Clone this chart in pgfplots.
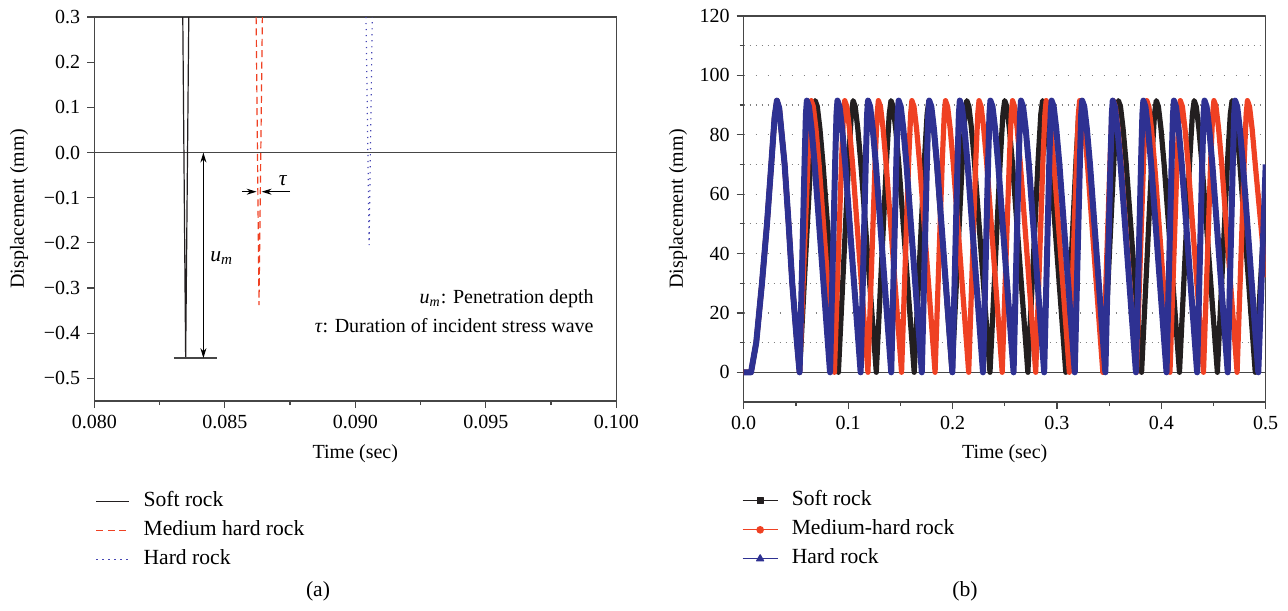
\documentclass[border=0pt]{standalone}
\usepackage{fontspec}
\setmainfont{Liberation Serif}
\usepackage{pgfplots}
\pgfplotsset{compat=1.18}
\usetikzlibrary{arrows.meta}

\definecolor{softc}{RGB}{35,31,32}
\definecolor{medc}{RGB}{239,65,35}
\definecolor{hardc}{RGB}{46,49,146}
\definecolor{dotc}{RGB}{70,70,180}
\definecolor{axc}{RGB}{70,70,70}

\newcommand{\fs}{\fontsize{10}{12}\selectfont}
\newcommand{\fl}{\fontsize{10.8}{13}\selectfont}

\pgfplotsset{
  pane/.style={
    scale only axis,
    width=261pt,
    axis line style={axc, line width=0.6pt},
    every tick/.style={axc, line width=0.6pt},
    tick align=outside, tick pos=left,
    major tick length=3.5pt, minor tick length=2pt,
    tick label style={font=\fs, text=black},
    label style={font=\fs},
    scaled ticks=false,
    legend style={draw=none, fill=none, font=\fl, inner sep=0pt, row sep=0pt,
      column sep=4.75pt, anchor=north west,
      nodes={inner sep=2pt, text height=7.8pt, text depth=2.7pt}},
    legend cell align=left,
  }
}

\begin{document}
\begin{tikzpicture}
\useasboundingbox (-47.15pt,-104.5pt) rectangle (596.85pt,200.5pt);

% ---------------- (a) ----------------
\begin{axis}[pane, height=192pt,
  at={(0pt,0pt)}, anchor=south west,
  xmin=0.08, xmax=0.1, ymin=-0.55, ymax=0.3,
  xtick={0.08,0.085,0.09,0.095,0.1},
  xticklabels={0.080,0.085,0.090,0.095,0.100},
  minor xtick={0.0825,0.0875,0.0925,0.0975},
  ytick={-0.5,-0.4,-0.3,-0.2,-0.1,0,0.1,0.2,0.3},
  yticklabels={−0.5,−0.4,−0.3,−0.2,−0.1,0.0,0.1,0.2,0.3},
  xlabel={Time (sec)}, ylabel={Displacement (mm)},
  xlabel style={at={(axis description cs:0.5,-0.138)}, anchor=center},
  ylabel style={at={(axis description cs:-0.144,0.5)}, anchor=center},
  legend style={at={(axis description cs:0.0019,-0.2226)}},
  legend image code/.code={\draw[#1, line width=0.7pt] (0pt,0pt) -- (16.5pt,0pt);},
]
\addplot[axc, line width=0.6pt, forget plot] coordinates {(0.08,0) (0.1,0)};

\addplot[softc, line width=0.6pt] coordinates {(0.08339,0.3) (0.08350,-0.455) (0.08362,0.3)};
\addlegendentry{Soft rock}
\addplot[medc, line width=0.6pt, dash pattern=on 3.5pt off 2.2pt] coordinates {(0.08620,0.3) (0.08631,-0.3375) (0.08644,0.3)};
\addlegendentry{Medium hard rock}
\addplot[dotc, line width=0.6pt, dash pattern=on 0.6pt off 2.4pt] coordinates {(0.09041,0.3) (0.09053,-0.205) (0.09065,0.3)};
\addlegendentry{Hard rock}

\draw[axc, line width=0.7pt] (axis cs:0.08305,-0.455) -- (axis cs:0.08469,-0.455);
\draw[black, line width=0.5pt, {Stealth[length=5pt,width=3pt]}-{Stealth[length=5pt,width=3pt]}]
  (axis cs:0.08418,0) -- (axis cs:0.08418,-0.455);
\draw[black, line width=0.5pt, -{Stealth[length=5pt,width=3pt]}] (axis cs:0.08565,-0.0867) -- (axis cs:0.08622,-0.0867);
\draw[black, line width=0.5pt, -{Stealth[length=5pt,width=3pt]}] (axis cs:0.08750,-0.0867) -- (axis cs:0.08641,-0.0867);
\node[font=\fl] at (axis cs:0.08723,-0.063) {\textit{τ}};
\node[font=\fl] at (axis cs:0.08488,-0.233) {\textit{u}\textsubscript{\textit{m}}};
\node[font=\fs, anchor=east] at (axis cs:0.0994,-0.324) {\textit{u}\textsubscript{\textit{m}}: Penetration depth};
\node[font=\fs, anchor=east] at (axis cs:0.0994,-0.382) {\textit{τ}: Duration of incident stress wave};
\end{axis}

% ---------------- (b) ----------------
\begin{axis}[pane, height=193pt,
  at={(324.7pt,-0.5pt)}, anchor=south west,
  xmin=0, xmax=0.5, ymin=-10, ymax=120,
  xtick={0,0.1,0.2,0.3,0.4,0.5},
  xticklabels={0.0,0.1,0.2,0.3,0.4,0.5},
  minor x tick num=1,
  ytick={0,20,40,60,80,100,120},
  yticklabels={0,20,40,60,80,100,120},
  minor y tick num=1,
  ymajorgrids, yminorgrids,
  major grid style={gray, line width=0.6pt, dash pattern=on 0.6pt off 5.4pt},
  minor grid style={gray, line width=0.6pt, dash pattern=on 0.6pt off 2.4pt},
  xlabel={Time (sec)}, ylabel={Displacement (mm)},
  xlabel style={at={(axis description cs:0.5,-0.135)}, anchor=center},
  ylabel style={at={(axis description cs:-0.1257,0.5)}, anchor=center},
  legend style={at={(axis description cs:-0.0039,-0.2174)}},
  legend image code/.code={\draw[mark repeat=2,mark phase=2,#1] plot coordinates {(0pt,0pt) (8.75pt,0pt) (17.5pt,0pt)};},
  line join=round,
]
\addplot[axc, line width=0.6pt, forget plot] coordinates {(0,0) (0.5,0)};

\addlegendimage{softc, line width=0.6pt, mark=square*, mark size=1.5pt}
\addlegendentry{Soft rock}
\addlegendimage{medc, line width=0.6pt, mark=*, mark size=1.6pt}
\addlegendentry{Medium-hard rock}
\addlegendimage{hardc, line width=0.6pt, mark=triangle*, mark size=2pt}
\addlegendentry{Hard rock}

% soft rock
\addplot[softc, line width=2.6pt, forget plot] coordinates {
(0,0) (0.007,0) (0.012,10) (0.0175,30) (0.0223,50) (0.0264,70) (0.0296,86) (0.0318,91.5) (0.034,89) (0.0392,70) (0.043,50) (0.0465,30) (0.051,10) (0.0535,0)
(0.0643,72) (0.0668,87) (0.0685,91.5) (0.0705,89.5) (0.0730,82) (0.0760,70) (0.0907,0)
(0.1006,72) (0.1031,87) (0.1048,91.5) (0.1068,89.5) (0.1093,82) (0.1123,70) (0.1270,0)
(0.1369,72) (0.1394,87) (0.1411,91.5) (0.1431,89.5) (0.1456,82) (0.1486,70) (0.1633,0)
(0.1732,72) (0.1757,87) (0.1774,91.5) (0.1794,89.5) (0.1819,82) (0.1849,70) (0.1996,0)
(0.2095,72) (0.2120,87) (0.2137,91.5) (0.2157,89.5) (0.2182,82) (0.2212,70) (0.2359,0)
(0.2458,72) (0.2483,87) (0.2500,91.5) (0.2520,89.5) (0.2545,82) (0.2575,70) (0.2722,0)
(0.2821,72) (0.2846,87) (0.2863,91.5) (0.2883,89.5) (0.2908,82) (0.2938,70) (0.3085,0)
(0.3184,72) (0.3209,87) (0.3226,91.5) (0.3246,89.5) (0.3271,82) (0.3301,70) (0.3448,0)
(0.3547,72) (0.3572,87) (0.3589,91.5) (0.3609,89.5) (0.3634,82) (0.3664,70) (0.3811,0)
(0.3910,72) (0.3935,87) (0.3952,91.5) (0.3972,89.5) (0.3997,82) (0.4027,70) (0.4174,0)
(0.4273,72) (0.4298,87) (0.4315,91.5) (0.4335,89.5) (0.4360,82) (0.4390,70) (0.4537,0)
(0.4636,72) (0.4661,87) (0.4678,91.5) (0.4698,89.5) (0.4723,82) (0.4753,70) (0.4900,0)
(0.5,60)};

% medium-hard rock
\addplot[medc, line width=2.6pt, forget plot] coordinates {
(0,0) (0.007,0) (0.012,10) (0.0175,30) (0.0223,50) (0.0264,70) (0.0296,86) (0.0318,91.5) (0.034,89) (0.0392,70) (0.043,50) (0.0465,30) (0.051,10) (0.0535,0)
(0.0617,72) (0.0635,87) (0.0647,91.5) (0.0667,89.5) (0.0692,82) (0.0722,70) (0.0869,0)
(0.0938,72) (0.0956,87) (0.0968,91.5) (0.0988,89.5) (0.1013,82) (0.1043,70) (0.1190,0)
(0.1260,72) (0.1278,87) (0.1290,91.5) (0.1310,89.5) (0.1335,82) (0.1365,70) (0.1512,0)
(0.1581,72) (0.1599,87) (0.1611,91.5) (0.1631,89.5) (0.1656,82) (0.1686,70) (0.1833,0)
(0.1903,72) (0.1921,87) (0.1933,91.5) (0.1953,89.5) (0.1978,82) (0.2008,70) (0.2155,0)
(0.2224,72) (0.2242,87) (0.2254,91.5) (0.2274,89.5) (0.2299,82) (0.2329,70) (0.2476,0)
(0.2545,72) (0.2563,87) (0.2575,91.5) (0.2595,89.5) (0.2620,82) (0.2650,70) (0.2797,0)
(0.2867,72) (0.2885,87) (0.2897,91.5) (0.2917,89.5) (0.2942,82) (0.2972,70) (0.3119,0)
(0.3188,72) (0.3206,87) (0.3218,91.5) (0.3238,89.5) (0.3263,82) (0.3293,70) (0.3440,0)
(0.3510,72) (0.3528,87) (0.3540,91.5) (0.3560,89.5) (0.3585,82) (0.3615,70) (0.3762,0)
(0.3831,72) (0.3849,87) (0.3861,91.5) (0.3881,89.5) (0.3906,82) (0.3936,70) (0.4083,0)
(0.4152,72) (0.4170,87) (0.4182,91.5) (0.4202,89.5) (0.4227,82) (0.4257,70) (0.4404,0)
(0.4474,72) (0.4492,87) (0.4504,91.5) (0.4524,89.5) (0.4549,82) (0.4579,70) (0.4726,0)
(0.4795,72) (0.4813,87) (0.4825,91.5) (0.4845,89.5) (0.4870,82) (0.4900,70) (0.5,32)};

% hard rock
\addplot[hardc, line width=3pt, forget plot] coordinates {
(0,0) (0.007,0) (0.012,10) (0.0175,30) (0.0223,50) (0.0264,70) (0.0296,86) (0.0318,91.5) (0.034,89) (0.0392,70) (0.043,50) (0.0465,30) (0.051,10) (0.0535,0)
(0.0584,72) (0.0596,87) (0.0605,91.5) (0.0625,89.5) (0.0650,82) (0.0680,70) (0.0827,0)
(0.0877,72) (0.0889,87) (0.0898,91.5) (0.0918,89.5) (0.0943,82) (0.0973,70) (0.1120,0)
(0.1170,72) (0.1182,87) (0.1191,91.5) (0.1211,89.5) (0.1236,82) (0.1266,70) (0.1413,0)
(0.1463,72) (0.1475,87) (0.1484,91.5) (0.1504,89.5) (0.1529,82) (0.1559,70) (0.1706,0)
(0.1756,72) (0.1768,87) (0.1777,91.5) (0.1797,89.5) (0.1822,82) (0.1852,70) (0.1999,0)
(0.2049,72) (0.2061,87) (0.2070,91.5) (0.2090,89.5) (0.2115,82) (0.2145,70) (0.2292,0)
(0.2342,72) (0.2354,87) (0.2363,91.5) (0.2383,89.5) (0.2408,82) (0.2438,70) (0.2585,0)
(0.2635,72) (0.2647,87) (0.2656,91.5) (0.2676,89.5) (0.2701,82) (0.2731,70) (0.2878,0)
(0.2928,72) (0.2940,87) (0.2949,91.5) (0.2969,89.5) (0.2994,82) (0.3024,70) (0.3171,0)
(0.3221,72) (0.3233,87) (0.3242,91.5) (0.3262,89.5) (0.3287,82) (0.3317,70) (0.3464,0)
(0.3514,72) (0.3526,87) (0.3535,91.5) (0.3555,89.5) (0.3580,82) (0.3610,70) (0.3757,0)
(0.3807,72) (0.3819,87) (0.3828,91.5) (0.3848,89.5) (0.3873,82) (0.3903,70) (0.4050,0)
(0.4100,72) (0.4112,87) (0.4121,91.5) (0.4141,89.5) (0.4166,82) (0.4196,70) (0.4343,0)
(0.4393,72) (0.4405,87) (0.4414,91.5) (0.4434,89.5) (0.4459,82) (0.4489,70) (0.4636,0)
(0.4686,72) (0.4698,87) (0.4707,91.5) (0.4727,89.5) (0.4752,82) (0.4782,70) (0.4929,0)
(0.5,70)};
\end{axis}

\node[font=\fl] at (111.85pt,-95pt) {(a)};
\node[font=\fl] at (435.35pt,-95pt) {(b)};
\end{tikzpicture}
\end{document}
